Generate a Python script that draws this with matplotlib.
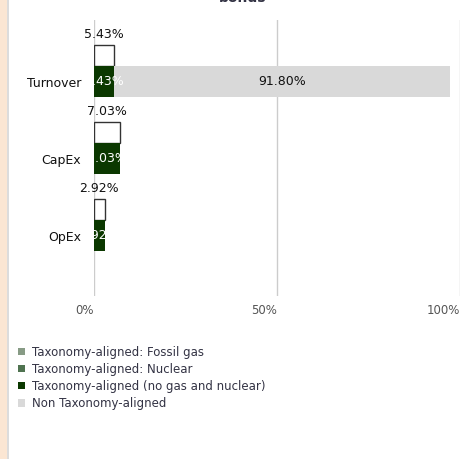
import matplotlib.pyplot as plt
from matplotlib.patches import Patch, Rectangle

# Données
categories = ['Turnover', 'CapEx', 'OpEx']
aligned_total = [5.43, 7.03, 2.92]
fossil_gas = [0, 0, 0]
nuclear = [0, 0, 0]
aligned_no_gas = [5.43, 7.03, 2.92]
non_aligned = [91.80, 0, 0]
x_ticks = [0, 50, 100]
x_tick_labels = ['0%', '50%', '100%']

legend_labels = ['Taxonomy-aligned: Fossil gas', 'Taxonomy-aligned: Nuclear',
                 'Taxonomy-aligned (no gas and nuclear)', 'Non Taxonomy-aligned']
colors = ['#879b85', '#4f7350', '#0b3800', '#d9d9d9']

fig = plt.figure(figsize=(4.70, 4.59), dpi=100)
fig.patches.append(Rectangle((0, 0), 7 / 470, 1, transform=fig.transFigure,
                             facecolor='#fbe6d3', edgecolor='none', zorder=0))
fig.patches.append(Rectangle((7 / 470, 0), 1.5 / 470, 1, transform=fig.transFigure,
                             facecolor='#dcdcdc', edgecolor='none', zorder=0))

ax = fig.add_axes([0.2, 0.355, 0.779, 0.6015])
y = list(range(len(categories)))
h = 0.4
oh = 0.28

# barres empilées
left = [0] * len(categories)
for vals, c in zip([fossil_gas, nuclear, aligned_no_gas, non_aligned], colors):
    ax.barh(y, vals, height=h, left=left, color=c, zorder=2)
    left = [l + v for l, v in zip(left, vals)]

# barre contour (total aligné) au-dessus
ax.barh([i - h / 2 - oh / 2 for i in y], aligned_total, height=oh,
        color='white', edgecolor='#333333', linewidth=1, zorder=1.5)

for i in y:
    ax.text(aligned_total[i] / 2, i - h / 2 - oh - 0.05, f'{aligned_total[i]:.2f}%',
            ha='center', va='bottom', fontsize=9, color='#111111')
    ax.text(aligned_no_gas[i] / 2, i, f'{aligned_no_gas[i]:.2f}%',
            ha='center', va='center', fontsize=9, color='white', zorder=3)
    if non_aligned[i] > 0:
        ax.text(aligned_no_gas[i] + non_aligned[i] / 2, i, f'{non_aligned[i]:.2f}%',
                ha='center', va='center', fontsize=9, color='#111111', zorder=3)

ax.set_xlim(0, 100)
ax.set_ylim(2.78, -0.8)
ax.set_yticks(y)
ax.set_yticklabels(categories, fontsize=9, color='#111111')
ax.set_xticks(x_ticks)
ax.set_xticklabels(x_tick_labels, fontsize=8.5, color='#555555', ha='right')
ax.tick_params(axis='both', length=0)
ax.tick_params(axis='y', pad=9.4)
ax.tick_params(axis='x', pad=6)
ax.grid(axis='x', color='#cccccc', linewidth=1, zorder=0)
ax.set_axisbelow(True)
for s in ax.spines.values():
    s.set_visible(False)

fig.text(0.517, 0.995, 'bonds', ha='center', va='baseline',
         fontsize=10, fontweight='bold', color='#333344')

handles = [Patch(facecolor=c, edgecolor='none') for c in colors]
fig.legend(handles, legend_labels, loc='upper left', bbox_to_anchor=(0.038, 0.247),
           frameon=False, fontsize=8.5, labelcolor='#333344', handlelength=0.6,
           handleheight=0.6, handletextpad=0.6, labelspacing=0.35, borderpad=0,
           borderaxespad=0)

plt.savefig('out.png', dpi=100)
